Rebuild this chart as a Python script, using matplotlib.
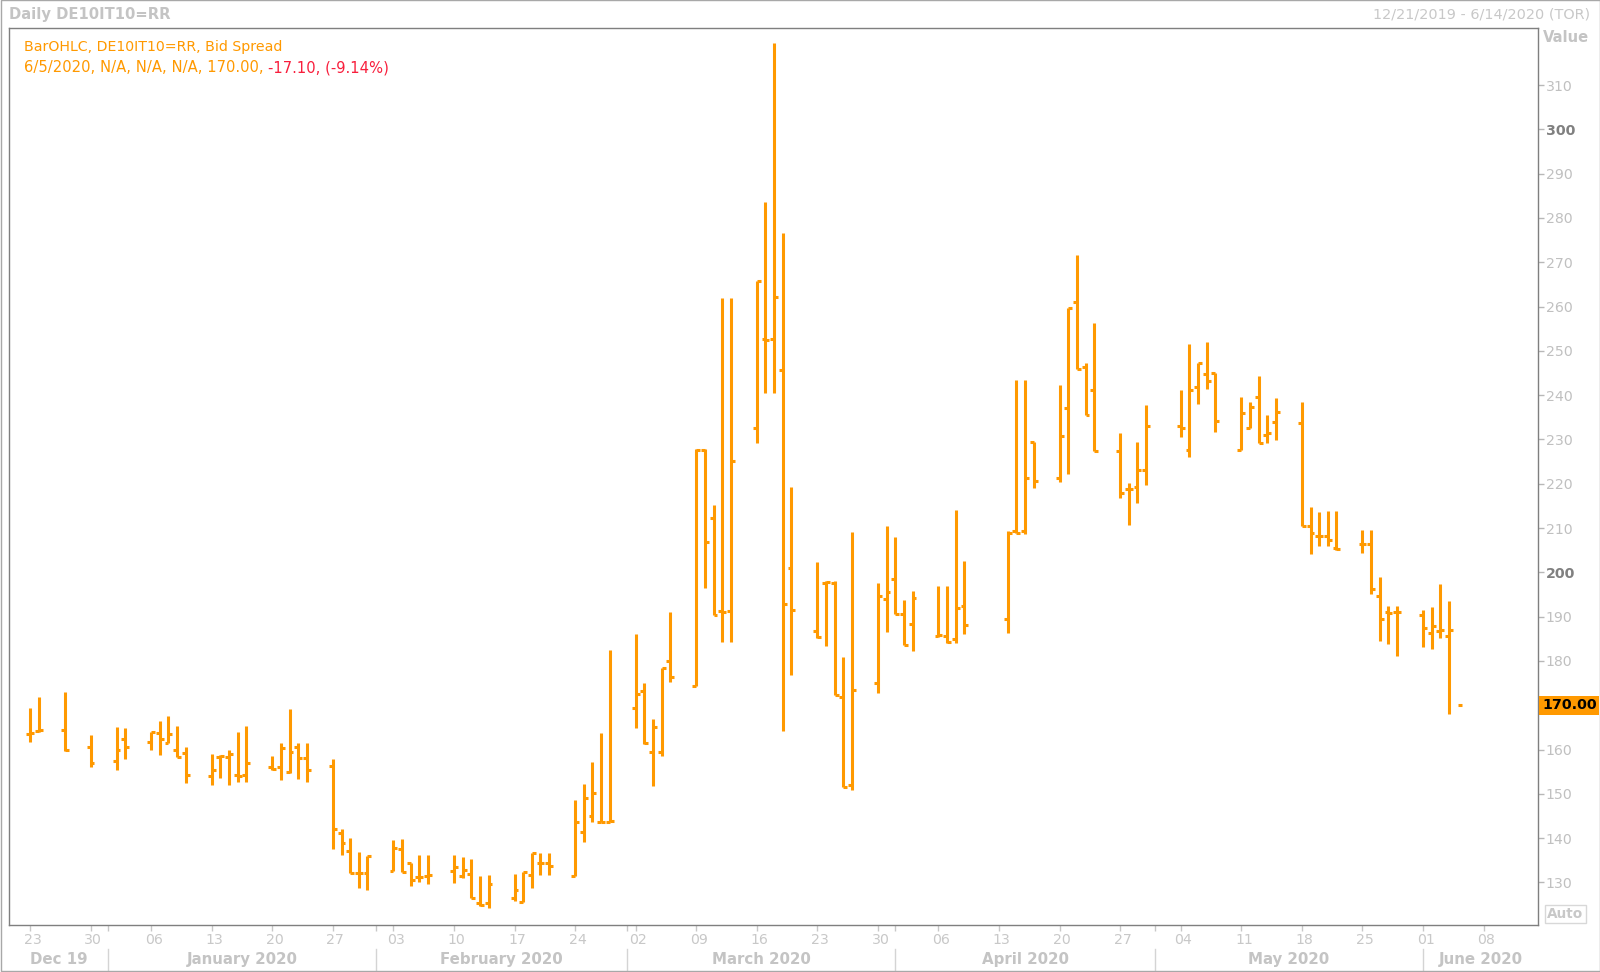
import matplotlib
matplotlib.use("Agg")
import matplotlib.pyplot as plt
import matplotlib.dates as mdates
import matplotlib.transforms as mtransforms
from matplotlib.patches import Rectangle

# Daily OHLC of the DE10IT10=RR bid spread
dates = [
    "2019-12-23", "2019-12-24", "2019-12-27", "2019-12-30",
    "2020-01-02", "2020-01-03", "2020-01-06", "2020-01-07", "2020-01-08", "2020-01-09", "2020-01-10",
    "2020-01-13", "2020-01-14", "2020-01-15", "2020-01-16", "2020-01-17",
    "2020-01-20", "2020-01-21", "2020-01-22", "2020-01-23", "2020-01-24",
    "2020-01-27", "2020-01-28", "2020-01-29", "2020-01-30", "2020-01-31",
    "2020-02-03", "2020-02-04", "2020-02-05", "2020-02-06", "2020-02-07",
    "2020-02-10", "2020-02-11", "2020-02-12", "2020-02-13", "2020-02-14",
    "2020-02-17", "2020-02-18", "2020-02-19", "2020-02-20", "2020-02-21",
    "2020-02-24", "2020-02-25", "2020-02-26", "2020-02-27", "2020-02-28",
    "2020-03-02", "2020-03-03", "2020-03-04", "2020-03-05", "2020-03-06",
    "2020-03-09", "2020-03-10", "2020-03-11", "2020-03-12", "2020-03-13",
    "2020-03-16", "2020-03-17", "2020-03-18", "2020-03-19", "2020-03-20",
    "2020-03-23", "2020-03-24", "2020-03-25", "2020-03-26", "2020-03-27",
    "2020-03-30", "2020-03-31", "2020-04-01", "2020-04-02", "2020-04-03",
    "2020-04-06", "2020-04-07", "2020-04-08", "2020-04-09",
    "2020-04-14", "2020-04-15", "2020-04-16", "2020-04-17",
    "2020-04-20", "2020-04-21", "2020-04-22", "2020-04-23", "2020-04-24",
    "2020-04-27", "2020-04-28", "2020-04-29", "2020-04-30",
    "2020-05-04", "2020-05-05", "2020-05-06", "2020-05-07", "2020-05-08",
    "2020-05-11", "2020-05-12", "2020-05-13", "2020-05-14", "2020-05-15",
    "2020-05-18", "2020-05-19", "2020-05-20", "2020-05-21", "2020-05-22",
    "2020-05-25", "2020-05-26", "2020-05-27", "2020-05-28", "2020-05-29",
    "2020-06-01", "2020-06-02", "2020-06-03", "2020-06-04",
]
opens = [
    163.6, 164.2, 164.4, 160.5,
    157.5, 162.4, 161.8, 163.8, 161.5, 160.0, 159.3,
    154.0, 158.4, 158.4, 154.2, 154.2,
    156.1, 156.0, 155.0, 160.5, 158.2,
    156.4, 141.1, 137.1, 132.2, 132.2,
    132.6, 137.5, 134.3, 131.3, 131.5,
    132.6, 131.4, 131.9, 125.4, 125.4,
    126.4, 125.7, 131.7, 134.3, 134.3,
    131.4, 141.5, 145.0, 143.7, 143.7,
    169.3, 173.3, 159.4, 159.5, 180.1,
    174.3, 227.6, 212.2, 191.2, 191.2,
    232.5, 252.6, 252.6, 245.6, 200.9,
    186.7, 197.7, 197.7, 171.8, 152.1,
    175.1, 194.1, 198.6, 190.7, 188.3,
    185.6, 185.6, 184.9, 192.5,
    189.5, 209.3, 209.4, 229.5,
    221.4, 237.2, 261.1, 246.4, 241.1,
    227.4, 218.9, 219.3, 223.2,
    233.1, 227.7, 241.8, 244.7, 244.9,
    227.6, 232.6, 239.6, 231.0, 234.0,
    233.8, 210.4, 208.3, 208.3, 205.4,
    206.3, 206.3, 194.6, 191.0, 191.0,
    190.4, 186.4, 186.8, 185.6,
]
highs = [
    169.3, 171.8, 172.9, 163.4,
    165.0, 164.8, 164.0, 166.5, 167.6, 165.4, 160.5,
    159.1, 158.8, 159.9, 164.0, 165.3,
    158.5, 161.4, 169.1, 161.5, 161.5,
    157.8, 142.0, 140.1, 136.8, 136.0,
    139.6, 139.8, 134.5, 136.2, 136.2,
    136.2, 135.7, 135.4, 131.4, 131.7,
    131.9, 132.4, 136.7, 136.6, 136.6,
    148.7, 152.2, 157.1, 163.7, 182.5,
    186.2, 175.0, 166.8, 178.5, 191.0,
    227.8, 227.9, 215.1, 261.9, 261.9,
    265.7, 283.6, 319.4, 276.6, 219.2,
    202.4, 198.0, 198.0, 180.8, 209.2,
    197.5, 210.5, 207.9, 193.7, 195.8,
    197.0, 197.0, 214.1, 202.6,
    209.3, 243.5, 243.5, 229.5,
    242.3, 259.6, 271.6, 247.2, 256.4,
    231.4, 220.1, 229.5, 237.8,
    241.1, 251.5, 247.2, 251.9, 244.9,
    239.5, 238.4, 244.3, 235.5, 239.3,
    238.5, 214.8, 213.7, 213.9, 213.9,
    209.5, 209.5, 198.9, 192.4, 192.4,
    191.6, 192.2, 197.4, 193.5,
]
lows = [
    161.8, 164.0, 159.7, 156.0,
    155.5, 157.9, 160.0, 158.8, 161.4, 158.4, 152.4,
    152.0, 153.5, 152.0, 152.7, 152.7,
    155.5, 153.1, 154.6, 153.3, 152.6,
    137.5, 136.3, 132.2, 128.8, 128.4,
    132.6, 132.3, 129.3, 130.0, 129.6,
    129.8, 131.1, 126.4, 124.7, 124.2,
    125.8, 125.7, 128.7, 131.7, 131.7,
    131.4, 139.2, 143.7, 143.7, 143.7,
    164.9, 161.2, 151.8, 158.5, 175.2,
    174.3, 196.4, 190.4, 184.3, 184.3,
    229.2, 240.5, 240.5, 164.2, 176.8,
    185.2, 183.4, 172.4, 151.6, 150.8,
    172.7, 186.6, 190.6, 183.6, 182.3,
    185.5, 184.1, 184.0, 186.0,
    186.3, 208.8, 208.6, 219.0,
    220.4, 222.3, 246.0, 235.5, 227.4,
    216.7, 210.7, 215.6, 219.7,
    230.5, 226.1, 238.0, 241.5, 231.7,
    227.6, 232.6, 229.3, 229.3, 229.9,
    210.5, 204.1, 206.0, 206.0, 205.0,
    204.3, 195.1, 184.5, 183.8, 181.1,
    183.2, 182.8, 185.2, 168.0,
]
closes = [
    163.8, 164.4, 159.9, 157.0,
    159.9, 160.6, 164.0, 162.4, 163.5, 158.4, 154.2,
    155.4, 158.6, 159.0, 154.0, 157.0,
    155.7, 160.3, 159.5, 158.2, 155.5,
    142.1, 139.0, 132.2, 132.2, 136.0,
    137.8, 132.3, 130.5, 131.3, 131.7,
    133.6, 132.9, 126.4, 124.9, 129.6,
    128.4, 132.4, 136.7, 134.3, 133.8,
    143.7, 149.1, 150.3, 143.7, 143.9,
    172.5, 161.5, 165.0, 178.5, 176.3,
    227.6, 206.8, 190.4, 191.0, 225.1,
    265.7, 252.4, 262.2, 192.8, 191.5,
    185.4, 197.9, 172.4, 151.6, 173.4,
    194.6, 195.5, 190.6, 183.6, 194.2,
    185.8, 184.3, 191.9, 188.1,
    208.9, 209.0, 221.4, 220.7,
    230.8, 259.6, 246.0, 235.5, 227.4,
    218.0, 218.9, 223.2, 233.1,
    232.5, 241.1, 247.2, 243.2, 234.1,
    235.9, 237.4, 229.3, 231.4, 236.3,
    210.5, 209.0, 208.3, 207.3, 205.2,
    206.3, 196.2, 189.4, 190.8, 191.0,
    187.4, 188.0, 187.1, 187.1,
]
last_date = "2020-06-05"
last_close = 170.00

week_ticks = ["2019-12-23", "2019-12-30", "2020-01-06", "2020-01-13", "2020-01-20", "2020-01-27",
              "2020-02-03", "2020-02-10", "2020-02-17", "2020-02-24", "2020-03-02", "2020-03-09",
              "2020-03-16", "2020-03-23", "2020-03-30", "2020-04-06", "2020-04-13", "2020-04-20",
              "2020-04-27", "2020-05-04", "2020-05-11", "2020-05-18", "2020-05-25", "2020-06-01",
              "2020-06-08"]
month_starts = ["2019-12-01", "2020-01-01", "2020-02-01", "2020-03-01", "2020-04-01",
                "2020-05-01", "2020-06-01", "2020-07-01"]
month_names = ["Dec 19", "January 2020", "February 2020", "March 2020", "April 2020",
               "May 2020", "June 2020"]
y_ticks = list(range(130, 311, 10))

orange = "#FF9900"
red = "#F81E3C"
light = "#C4C4C4"

W, H = 1600, 972
fig = plt.figure(figsize=(W / 100, H / 100), dpi=100)
fig.patch.set_facecolor("white")

# plot area in pixels: left 9, right 1538, top 28.4, bottom 925
ax = fig.add_axes([9 / W, (H - 925) / H, 1529 / W, (925 - 28.4) / H])

x = mdates.datestr2num(dates)
tw = 0.45
ax.vlines(x, lows, highs, color=orange, lw=2.2)
ax.hlines(opens, x - tw, x, color=orange, lw=2.2)
ax.hlines(closes, x, x + tw, color=orange, lw=2.2)
xl = mdates.datestr2num(last_date)
ax.hlines([last_close], xl, xl + tw, color=orange, lw=2.2)

x0 = mdates.datestr2num("2019-12-20") + 0.57
x1 = mdates.datestr2num("2020-06-14") + 0.29
ax.set_xlim(x0, x1)
ax.set_ylim(120.4, 322.8)

for sp in ax.spines.values():
    sp.set_color("#7F7F7F")
    sp.set_linewidth(1)

# right value axis (the 170 label sits under the last-value box)
ax.yaxis.tick_right()
ax.set_yticks(y_ticks)
ax.set_yticklabels(["" if v == 170 else str(v) for v in y_ticks])
ax.tick_params(axis="y", length=4, width=1, color="#B8B8B8", labelcolor="#C0C0C0",
               labelsize=10.2, pad=1.5)
for lbl in ax.get_yticklabels():
    if lbl.get_text() in ("300", "200"):
        lbl.set_fontweight("bold")
        lbl.set_color("#808080")

# week ticks and month boundaries
wk = mdates.datestr2num(week_ticks)
ax.set_xticks(wk)
ax.set_xticklabels([d[-2:] for d in week_ticks])
ms = mdates.datestr2num(month_starts)
ax.set_xticks(ms[1:-1], minor=True)
ax.tick_params(axis="x", which="both", length=4, width=1, color="#C8C8C8",
               labelcolor="#C8C8C8", labelsize=10.2, pad=1.5)
shift = mtransforms.ScaledTranslation(2.5 / 100, 0, fig.dpi_scale_trans)
for lbl in ax.get_xticklabels():
    lbl.set_transform(lbl.get_transform() + shift)

# month row with separators
btrans = mtransforms.blended_transform_factory(ax.transData, fig.transFigure)
for i, name in enumerate(month_names):
    a = max(ms[i], x0)
    b = min(ms[i + 1], x1)
    ax.text((a + b) / 2, 1 - 959 / H, name, transform=btrans, ha="center", va="center",
            fontsize=10.8, fontweight="bold", color="#C4C4C4", clip_on=False)
for m in ms[1:-1]:
    ax.plot([m, m], [1 - 949 / H, 1 - 971 / H], transform=btrans, color="#D4D4D4",
            lw=1, clip_on=False)

# header inside the plot
ax.text(0.0095, 0.979, "BarOHLC, DE10IT10=RR, Bid Spread", transform=ax.transAxes,
        ha="left", va="center", fontsize=10.2, color=orange)
t2 = ax.text(0.0095, 0.956, "6/5/2020, N/A, N/A, N/A, 170.00, ", transform=ax.transAxes,
             ha="left", va="center", fontsize=10.6, color=orange)
ax.annotate("-17.10, (-9.14%)", xy=(1, 0.5), xycoords=t2, ha="left", va="center",
            fontsize=10.6, color=red)

# last value marker on the axis
ytrans = mtransforms.blended_transform_factory(ax.transAxes, ax.transData)
ax.text(1 + 4 / 1529, last_close, "170.00", transform=ytrans, ha="left", va="center",
        fontsize=10.3, fontweight="bold", color="black", clip_on=False,
        bbox=dict(boxstyle="square,pad=0.18", fc=orange, ec="none"))

# outer texts
fig.text(9 / W, 1 - 15 / H, "Daily DE10IT10=RR", ha="left", va="center",
         fontsize=10.6, fontweight="bold", color=light)
fig.text(1590 / W, 1 - 15 / H, "12/21/2019 - 6/14/2020 (TOR)", ha="right", va="center",
         fontsize=10.4, color="#C8C8C8")
fig.text(1543 / W, 1 - 38 / H, "Value", ha="left", va="center",
         fontsize=10.6, fontweight="bold", color=light)
fig.text(1565.5 / W, 1 - 914 / H, "Auto", ha="center", va="center",
         fontsize=9.8, fontweight="bold", color="#C8C8C8",
         bbox=dict(boxstyle="square,pad=0.15", fc="white", ec="#D8D8D8", lw=1))

# thin frame around the whole picture
fig.patches.append(Rectangle((0.5 / W, 1 - 970.5 / H), 1599 / W, 970 / H,
                             transform=fig.transFigure, fill=False, ec="#A8A8A8", lw=1))

fig.savefig("out.png", dpi=100)
